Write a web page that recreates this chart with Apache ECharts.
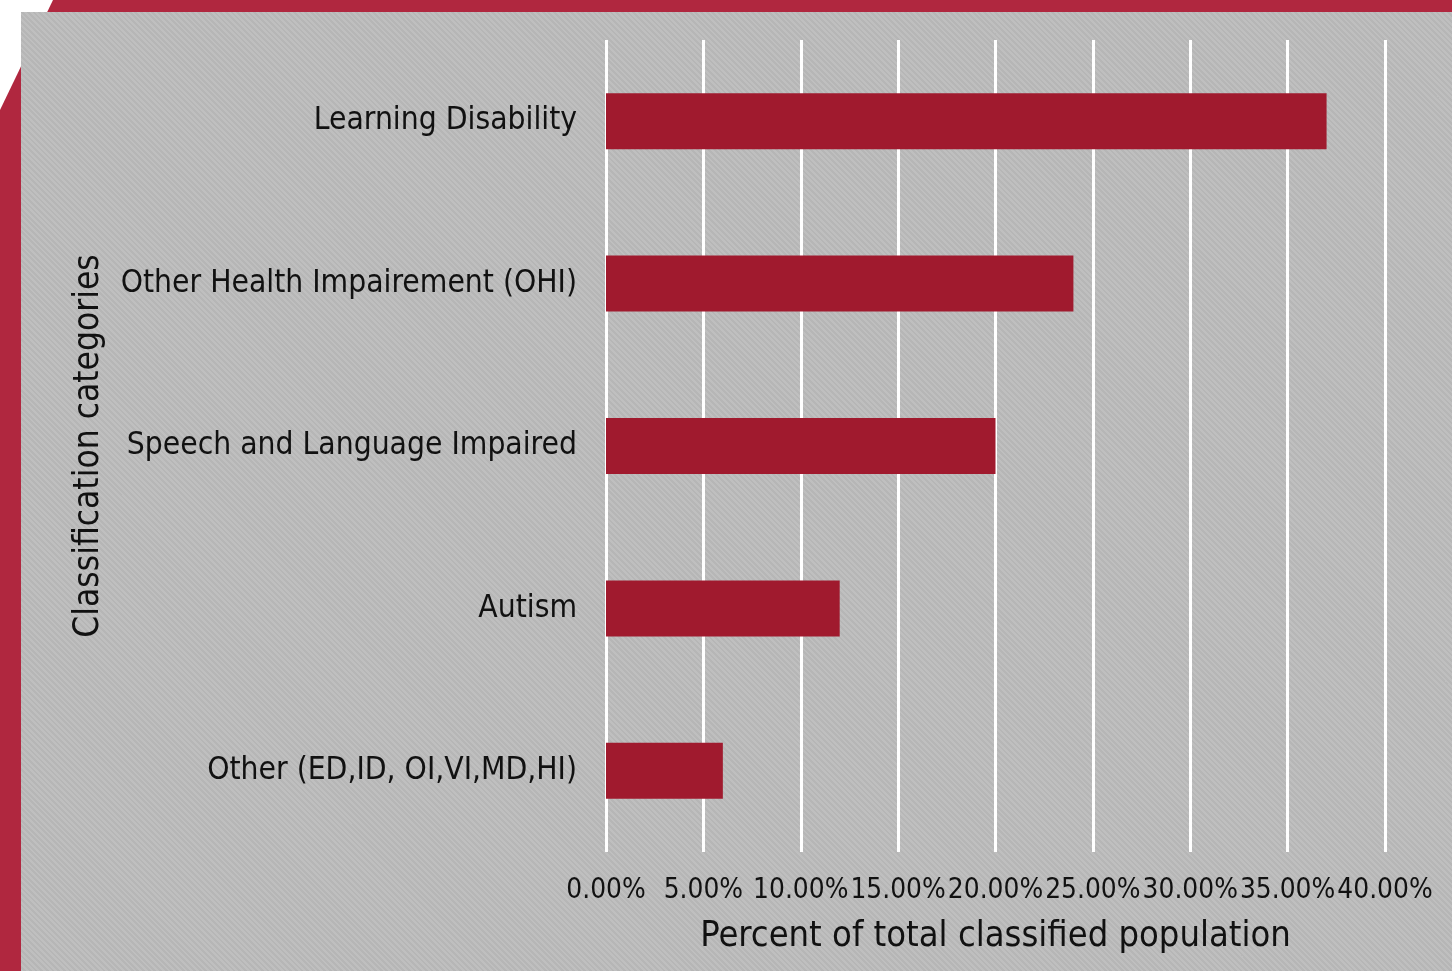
<!DOCTYPE html>
<html>
<head>
<meta charset="utf-8">
<script src="https://cdn.jsdelivr.net/npm/echarts@6/dist/echarts.min.js"></script>
<style>
  html, body { margin: 0; padding: 0; width: 1452px; height: 971px; background: #fff; overflow: hidden; }
  #frame { position: absolute; left: 0; top: 0; width: 1452px; height: 971px; background: #b0273f;
           clip-path: polygon(53px 0, 100% 0, 100% 100%, 0 100%, 0 110px); }
  #panel { position: absolute; left: 21px; top: 12px; right: 0; bottom: 0;
           background: repeating-linear-gradient(45deg, #bfbfbf 0 2px, #b6b6b6 2px 4px); }
  #chart { position: absolute; left: 0; top: 0; width: 1452px; height: 971px; }
</style>
</head>
<body>
<div id="frame"></div>
<div id="panel"></div>
<div id="chart"></div>
<script>
// Disability classification share of the classified population (percent)
const categories = [
  'Learning Disability',
  'Other Health Impairement (OHI)',
  'Speech and Language Impaired',
  'Autism',
  'Other (ED,ID, OI,VI,MD,HI)'
];
const percents = [37, 24, 20, 12, 6];
const xTicks = { min: 0, max: 40, step: 5 };

const FONT = '"DejaVu Sans Condensed", "DejaVu Sans", sans-serif';
const chart = echarts.init(document.getElementById('chart'), null, { renderer: 'canvas' });
chart.setOption({
  animation: false,
  backgroundColor: 'transparent',
  grid: { left: 606, right: 67, top: 40, bottom: 119, containLabel: false },
  xAxis: {
    type: 'value', min: xTicks.min, max: xTicks.max, interval: xTicks.step,
    name: 'Percent of total classified population',
    nameLocation: 'middle', nameGap: 67,
    nameTextStyle: { fontFamily: FONT, fontSize: 36, color: '#111' },
    axisLine: { show: false }, axisTick: { show: false },
    axisLabel: { margin: 25, fontFamily: FONT, fontSize: 27.8, color: '#111',
                 showMinLabel: true, showMaxLabel: true, hideOverlap: false,
                 formatter: (v) => v.toFixed(2) + '%' },
    splitLine: { show: true, lineStyle: { color: '#ffffff', width: 3 } }
  },
  yAxis: {
    type: 'category', data: categories, inverse: true,
    name: 'Classification categories',
    nameLocation: 'middle', nameGap: 500, nameRotate: 90,
    nameTextStyle: { fontFamily: FONT, fontSize: 35, color: '#111' },
    axisLine: { show: false }, axisTick: { show: false },
    axisLabel: { margin: 29, fontFamily: FONT, fontSize: 31.5, color: '#111' },
    splitLine: { show: false }
  },
  series: [{
    type: 'bar', data: percents, barWidth: 56,
    itemStyle: { color: '#a01a2e' }
  }]
});
</script>
</body>
</html>
